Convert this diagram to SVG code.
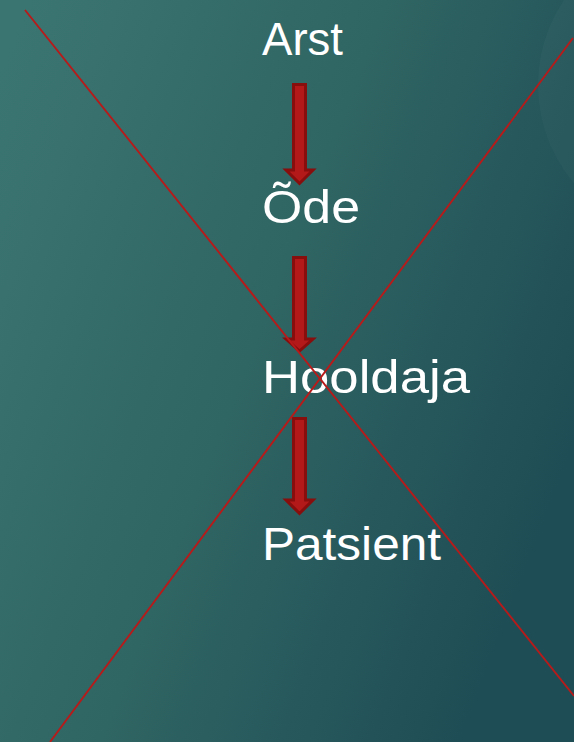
<svg xmlns="http://www.w3.org/2000/svg" width="574" height="742" viewBox="0 0 574 742">
<defs>
<linearGradient id="bg" x1="0" y1="0.1" x2="1" y2="0.6">
<stop offset="0" stop-color="#3b7571"/>
<stop offset="0.5" stop-color="#2f6563"/>
<stop offset="1" stop-color="#1f4d55"/>
</linearGradient>
<style>
.lbl{font-family:"Liberation Sans",Arial,sans-serif;font-size:46px;fill:#ffffff}
.arr{fill:#b31919;stroke:#880d0d;stroke-width:3;stroke-linejoin:miter}
.x{stroke:#b81a1a;stroke-width:1.9;fill:none}
</style>
</defs>
<rect width="574" height="742" fill="url(#bg)"/>
<circle cx="690" cy="85" r="152" fill="#ffffff" fill-opacity="0.025"/>
<g id="connectors">
<path class="arr" d="M293.5,84.5 H305.5 V170 H313 L299.5,183.5 L286,170 H293.5 Z"/>
<path class="arr" d="M293.5,257.5 H305.5 V339 H313 L299.5,351 L286,339 H293.5 Z"/>
<path class="arr" d="M293.5,418.5 H305.5 V500 H313 L299.5,513.5 L286,500 H293.5 Z"/>
</g>
<g id="node-arst"><text class="lbl" x="262" y="55" textLength="81" lengthAdjust="spacingAndGlyphs">Arst</text></g>
<g id="node-ode"><text class="lbl" x="262" y="223" textLength="98" lengthAdjust="spacingAndGlyphs">Õde</text></g>
<g id="node-hooldaja"><text class="lbl" x="262" y="393" textLength="208" lengthAdjust="spacingAndGlyphs">Hooldaja</text></g>
<g id="node-patsient"><text class="lbl" x="262" y="560" textLength="179" lengthAdjust="spacingAndGlyphs">Patsient</text></g>
<g id="cross">
<line class="x" x1="25" y1="10" x2="574" y2="696"/>
<line class="x" x1="573" y1="38" x2="50" y2="742"/>
</g>
</svg>
